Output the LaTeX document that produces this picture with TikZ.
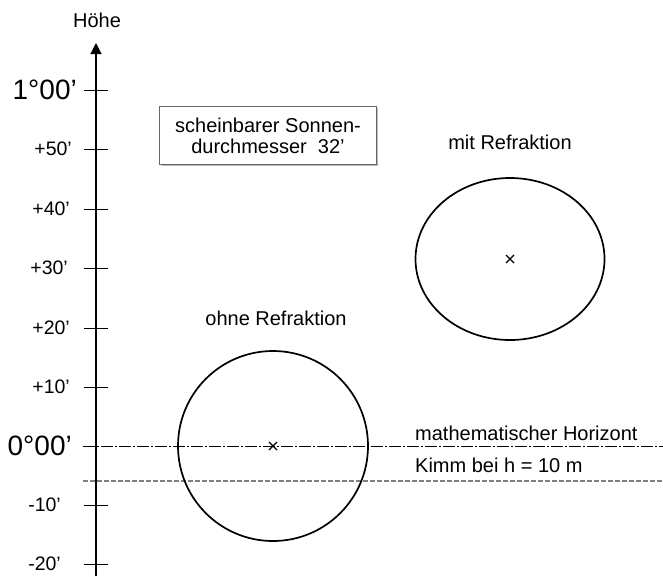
\documentclass[tikz,border=0pt]{standalone}
\usepackage{fontspec}
\setmainfont{Liberation Sans}
\usetikzlibrary{arrows.meta}
\begin{document}
\begin{tikzpicture}[x=1pt,y=-1pt,
  lbl/.style={font=\fontsize{20}{21}\selectfont, inner sep=0pt},
  axlbl/.style={font=\fontsize{19.5}{21}\selectfont, anchor=east, inner sep=0pt},
  biglbl/.style={font=\fontsize{28}{30}\selectfont, anchor=east, inner sep=0pt},
  ticmark/.style={line width=1pt},
  sun/.style={draw, line width=1.7pt},
  centermark/.style={line width=1.2pt},
  horizon/.style={line width=0.7pt, dash pattern=on 12pt off 2pt on 2pt off 2pt},
  kimm/.style={line width=1.2pt, gray, dash pattern=on 5pt off 2pt}]
\useasboundingbox (0,0) rectangle (663,576);

% axis
\coordinate (abot) at (96,576);
\coordinate (atop) at (96,43);
\draw[line width=1.2pt, -{Triangle[length=11pt,width=11pt]}] (abot) -- (atop);
\node[lbl] (hoehe) at (97,20) {Höhe};

% ticks
\foreach \yy in {90,149,209,268,328,387,505,564}{
  \draw[ticmark] (84,\yy) -- (108,\yy);
}
\node[biglbl] (l60) at (77,90) {1°00’};
\node[axlbl] (l50) at (72,149) {+50’};
\node[axlbl] (l40) at (70,209) {+40’};
\node[axlbl] (l30) at (68,268) {+30’};
\node[axlbl] (l20) at (70,328) {+20’};
\node[axlbl] (l10) at (70,387) {+10’};
\node[biglbl] (l0) at (72,446) {0°00’};
\node[axlbl] (lm10) at (61,505) {-10’};
\node[axlbl] (lm20) at (61,564) {-20’};

% horizon lines
\coordinate (hzA) at (83,446);
\coordinate (hzB) at (663,446);
\coordinate (kmA) at (83,481);
\coordinate (kmB) at (663,481);
\draw[horizon] (hzA) -- (hzB);
\draw[kimm] (kmA) -- (kmB);
\node[lbl, anchor=west] (mathh) at (415,433) {mathematischer Horizont};
\node[lbl, anchor=west] (kimmlbl) at (415,465) {Kimm bei h = 10 m};

% box
\draw[gray!55, line width=1.2pt] (161.5,165.5) -- (377.5,165.5) -- (377.5,108);
\draw[gray!80!black, line width=1pt] (159,106) rectangle (376,164);
\node[lbl, align=center] (boxtxt) at (268,135.5) {scheinbarer Sonnen-\\durchmesser\ \ 32’};

% suns
\coordinate (c1) at (273,446);
\coordinate (c2) at (510,259);
\draw[sun] (c1) circle[radius=95];
\draw[sun] (c2) ellipse[x radius=94.5, y radius=81];
\draw[centermark] (c1) +(-4,-4) -- +(4,4) (c1) +(-4,4) -- +(4,-4);
\draw[centermark] (c2) +(-4,-4) -- +(4,4) (c2) +(-4,4) -- +(4,-4);
\node[lbl] (ohne) at (276,318) {ohne Refraktion};
\node[lbl] (mit) at (510,142) {mit Refraktion};
\end{tikzpicture}
\end{document}
